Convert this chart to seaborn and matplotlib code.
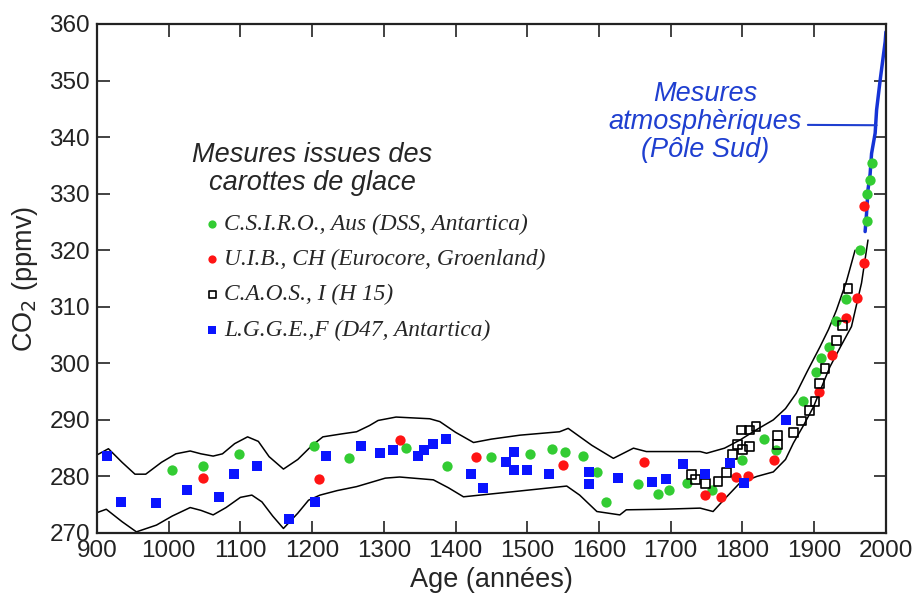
import numpy as np
import pandas as pd
import matplotlib
matplotlib.use('Agg')
import matplotlib.pyplot as plt
import seaborn as sns
from matplotlib.font_manager import FontProperties

sns.set_style('ticks')
plt.rcParams['font.family'] = ['Liberation Sans', 'DejaVu Sans']

# %%
# Ice core measurements (year, CO2 ppmv) read off the figure
csiro_year = [1004, 1048, 1098, 1202, 1251, 1331, 1388, 1449, 1504, 1534, 1553, 1577,
              1597, 1610, 1654, 1682, 1698, 1722, 1758, 1799, 1830, 1847, 1885, 1903,
              1910, 1921, 1930, 1945, 1964, 1973, 1974, 1978, 1981]
csiro_co2 = [281.1, 281.9, 284.0, 285.3, 283.2, 285.0, 281.9, 283.5, 283.9, 284.9, 284.3, 283.6,
             280.7, 275.5, 278.7, 276.9, 277.6, 278.8, 277.6, 282.9, 286.7, 284.6, 293.3, 298.5,
             300.9, 302.8, 307.5, 311.3, 320.0, 325.2, 329.9, 332.4, 335.4]

uib_year = [1048, 1210, 1322, 1429, 1550, 1663, 1748, 1770, 1791, 1808, 1844, 1907,
            1925, 1945, 1959, 1970, 1970]
uib_co2 = [279.7, 279.5, 286.4, 283.5, 282.1, 282.5, 276.7, 276.3, 279.9, 280.1, 282.9, 295.0,
           301.4, 308.0, 311.6, 317.7, 327.8]

caos_year = [1729, 1734, 1748, 1766, 1778, 1786, 1793, 1800, 1799, 1810, 1810, 1819,
             1849, 1849, 1871, 1882, 1894, 1901, 1907, 1915, 1931, 1939, 1947]
caos_co2 = [280.4, 279.5, 278.7, 279.1, 280.7, 283.9, 285.7, 284.7, 288.2, 288.2, 285.3, 288.8,
            287.3, 285.7, 287.8, 289.8, 291.6, 293.3, 296.5, 299.1, 304.0, 306.7, 313.3]

lgge_year = [914, 933, 983, 1026, 1070, 1091, 1123, 1168, 1204, 1220, 1268, 1295,
             1313, 1347, 1356, 1369, 1386, 1421, 1438, 1470, 1482, 1482, 1500, 1530,
             1586, 1586, 1627, 1674, 1693, 1717, 1748, 1782, 1802, 1861]
lgge_co2 = [283.6, 275.5, 275.3, 277.6, 276.3, 280.4, 281.9, 272.4, 275.4, 283.6, 285.3, 284.2,
            284.7, 283.6, 284.7, 285.7, 286.7, 280.4, 278.0, 282.6, 284.3, 281.1, 281.1, 280.4,
            280.8, 278.7, 279.8, 279.1, 279.5, 282.2, 280.4, 282.3, 278.9, 290.0]

# envelope around the ice core data
upper_year = [900, 916, 935, 953, 968, 990, 1010, 1030, 1045, 1062, 1075, 1092, 1110, 1125,
              1140, 1160, 1180, 1200, 1215, 1240, 1262, 1280, 1292, 1317, 1364, 1378, 1400,
              1425, 1450, 1490, 1545, 1557, 1590, 1620, 1648, 1666, 1741, 1750, 1775, 1796,
              1820, 1843, 1860, 1875, 1890, 1908, 1920, 1931, 1945, 1957]
upper_co2 = [283.8, 284.9, 282.5, 280.4, 280.4, 282.5, 284.0, 284.5, 284.0, 283.6, 284.0, 285.8,
             287.0, 286.2, 283.5, 281.3, 283.0, 285.5, 287.0, 287.5, 287.9, 289.0, 289.9, 290.5,
             290.2, 289.7, 287.8, 286.0, 286.6, 287.3, 287.9, 288.5, 285.5, 283.2, 285.0, 284.4,
             284.4, 284.1, 285.0, 286.4, 288.3, 290.0, 292.0, 294.7, 298.5, 302.9, 306.0, 309.4,
             314.5, 320.0]
lower_year = [900, 913, 935, 955, 983, 1005, 1030, 1045, 1062, 1080, 1100, 1116, 1130, 1145,
              1160, 1180, 1195, 1211, 1235, 1262, 1302, 1322, 1369, 1390, 1411, 1480, 1555,
              1573, 1597, 1629, 1638, 1689, 1741, 1759, 1775, 1796, 1820, 1843, 1860, 1871,
              1885, 1899, 1922, 1937, 1952, 1966, 1975]
lower_co2 = [273.6, 274.2, 272.0, 270.2, 271.4, 273.0, 274.5, 274.0, 273.2, 274.5, 276.3, 276.7,
             275.5, 273.0, 270.8, 273.5, 275.8, 276.7, 277.5, 278.2, 279.7, 279.9, 279.4, 278.0,
             276.4, 277.3, 278.3, 276.7, 273.8, 273.2, 274.1, 274.2, 274.4, 273.8, 276.0, 278.8,
             280.0, 280.8, 283.0, 285.9, 289.0, 292.3, 299.4, 303.0, 306.5, 314.2, 321.8]

# atmospheric measurements, South Pole
atm_year = [1971, 1973, 1975, 1978, 1980, 1985, 1987, 1992, 1999, 2000]
atm_co2 = [323.3, 326.5, 330.7, 333.5, 337.1, 340.7, 344.8, 350.1, 356.9, 358.6]

labels = ['C.S.I.R.O., Aus (DSS, Antartica)',
          'U.I.B., CH (Eurocore, Groenland)',
          'C.A.O.S., I (H 15)',
          'L.G.G.E.,F (D47, Antartica)']

# %%
plt.rcParams.update({'xtick.direction': 'in', 'ytick.direction': 'in',
                     'xtick.top': True, 'ytick.right': True})
fig, ax = plt.subplots(figsize=(9.19, 5.94), dpi=100)
fig.subplots_adjust(left=0.1055, right=0.964, bottom=0.1027, top=0.9596)

sns.lineplot(x=upper_year, y=upper_co2, color='black', linewidth=1.1,
             estimator=None, sort=False, ax=ax)
sns.lineplot(x=lower_year, y=lower_co2, color='black', linewidth=1.1,
             estimator=None, sort=False, ax=ax)
sns.lineplot(x=atm_year, y=atm_co2, color='#1533d6', linewidth=2.5,
             estimator=None, sort=False, ax=ax)

sns.scatterplot(x=csiro_year, y=csiro_co2, color='#33cc33', marker='o', s=55,
                linewidth=0, label=labels[0], ax=ax, zorder=3)
sns.scatterplot(x=uib_year, y=uib_co2, color='#ff1414', marker='o', s=55,
                linewidth=0, label=labels[1], ax=ax, zorder=3)
sns.scatterplot(x=caos_year, y=caos_co2, color='black', facecolor='none',
                edgecolor='black', marker='s', s=40, linewidth=1.2,
                label=labels[2], ax=ax, zorder=3)
sns.scatterplot(x=lgge_year, y=lgge_co2, color='#0a14ff', marker='s', s=55,
                linewidth=0, label=labels[3], ax=ax, zorder=3)

# Labels, Limits
ax.set_xlim(900, 2000)
ax.set_ylim(270, 360)
ax.set_xticks(np.arange(900, 2001, 100))
ax.set_yticks(np.arange(270, 361, 10))
ax.tick_params(labelsize=17.5, length=9, width=1.2, pad=5, colors='#222222')
for s in ax.spines.values():
    s.set_linewidth(1.6)
    s.set_color('#222222')
ax.set_xlabel('Age (années)', fontsize=19.5, labelpad=4)
ax.set_ylabel('CO$_2$ (ppmv)', fontsize=19.5, labelpad=7)

# legend
ax.legend(loc='upper left', bbox_to_anchor=(0.133, 0.628), frameon=False,
          prop=FontProperties(family='Liberation Serif', style='italic', size=16.8),
          handletextpad=0.05, handlelength=0.9, labelspacing=0.6,
          borderpad=0, borderaxespad=0, markerscale=0.8)
ax.text(1200, 334.4, 'Mesures issues des\ncarottes de glace', fontsize=19.5,
        style='italic', ha='center', va='center', linespacing=1.12)

ax.annotate('Mesures\natmosphèriques\n(Pôle Sud)', xy=(1987, 342.1),
            xytext=(1748, 342.6), textcoords='data', fontsize=19.5,
            style='italic', color='#1f3fd0', ha='center', va='center',
            linespacing=1.1,
            arrowprops=dict(arrowstyle='-', color='#1f3fd0', lw=1.5,
                            relpos=(1, 0.47), shrinkA=2, shrinkB=0))

fig.savefig('out.png', dpi=100)
